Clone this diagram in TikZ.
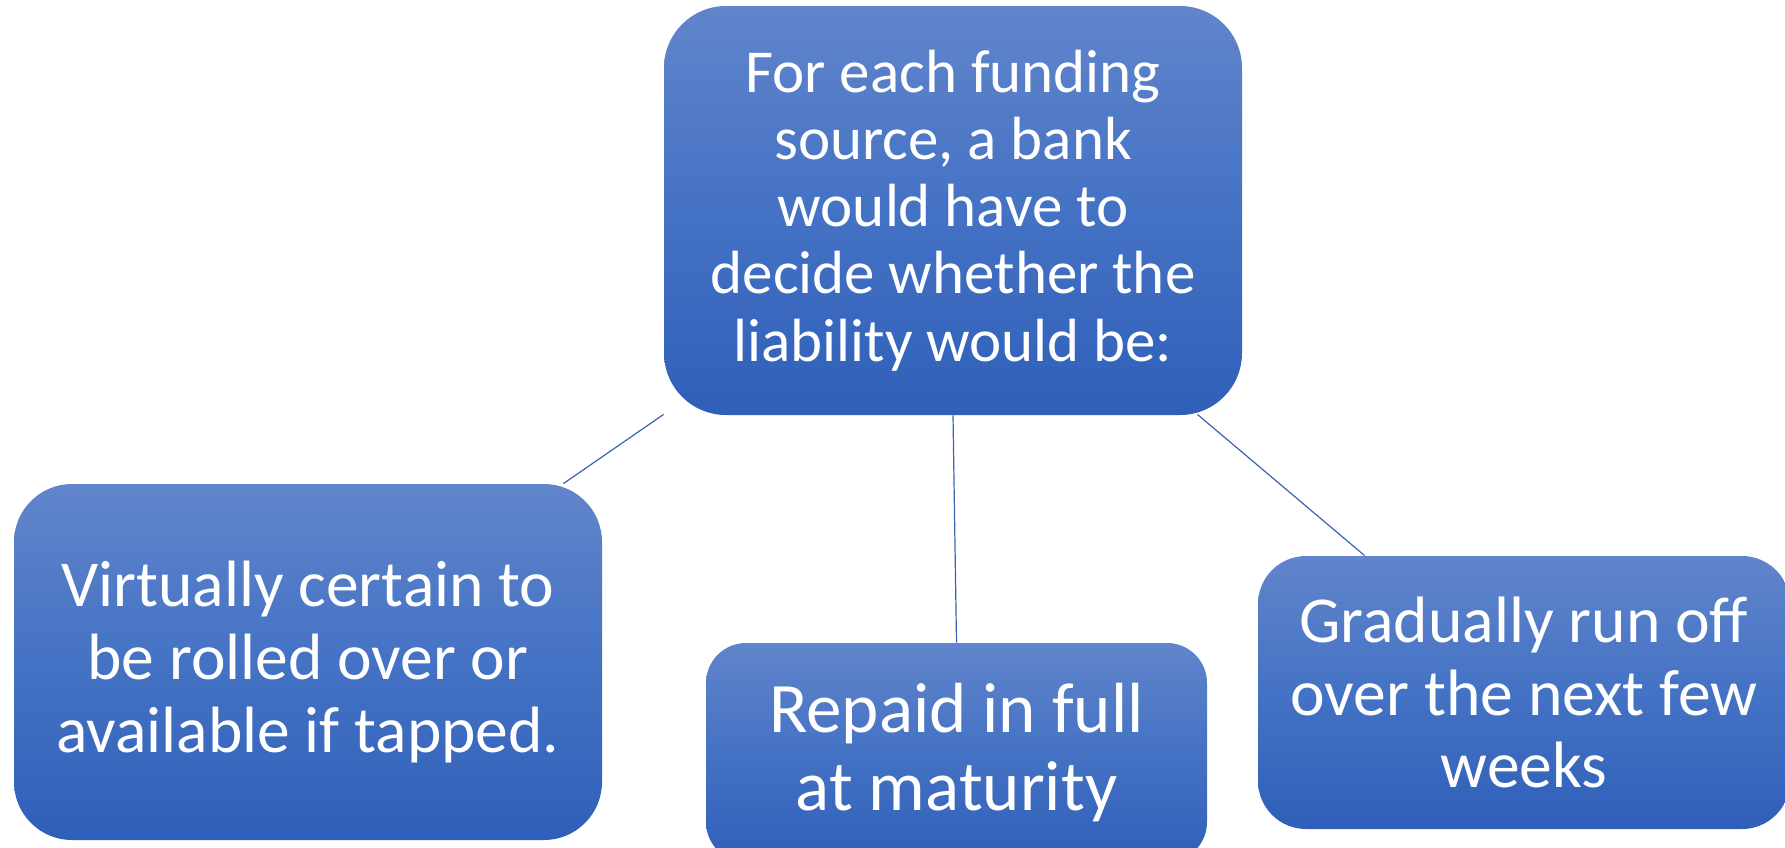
\documentclass[tikz,border=0pt]{standalone}
\usepackage{fontspec}
\setmainfont{Carlito}
\usepackage{tikz}
\usetikzlibrary{positioning}
\definecolor{boxtop}{HTML}{6185CB}
\definecolor{boxmid}{HTML}{4472C4}
\definecolor{boxbot}{HTML}{2F5FB9}
\definecolor{linkblue}{HTML}{3A62AD}
\tikzset{%
	liabbox/.style = {rectangle, inner sep=0pt, text=white, align=center, top color=boxtop, bottom color=boxbot, middle color=boxmid},
	link/.style    = {draw=linkblue, line width=0.6pt},
}

\begin{document}
\begin{tikzpicture}[x=0.5pt,y=-0.5pt]
	\useasboundingbox (0,0) rectangle (1785,847);
	\node[liabbox, rounded corners=31pt, minimum width=289pt, minimum height=204.5pt, font=\fontsize{30.5}{33.6}\selectfont] (source) at (953,210.5) {For each funding\\source, a bank\\would have to\\decide whether the\\liability would be:};
	\node[liabbox, rounded corners=29pt, minimum width=294pt, minimum height=178pt, font=\fontsize{32.75}{36.3}\selectfont] (rolled) at (308,662) {Virtually certain to\\be rolled over or\\available if tapped.};
	\node[liabbox, rounded corners=20pt, minimum width=250.5pt, minimum height=109.5pt, font=\fontsize{35.5}{39.3}\selectfont] (repaid) at (956.5,752.5) {Repaid in full\\at maturity};
	\node[liabbox, rounded corners=24pt, minimum width=266pt, minimum height=136.5pt, font=\fontsize{32.8}{36.3}\selectfont] (runoff) at (1524,692.5) {Gradually run off\\over the next few\\weeks};
	\draw[link] ([yshift=0.5pt]source.south west) -- ([xshift=-19.5pt]rolled.north east);
	\draw[link] (source.south) -- (repaid.north);
	\draw[link] ([xshift=-22.5pt,yshift=0.5pt]source.south east) -- ([xshift=53.5pt]runoff.north west);
\end{tikzpicture}
\end{document}
